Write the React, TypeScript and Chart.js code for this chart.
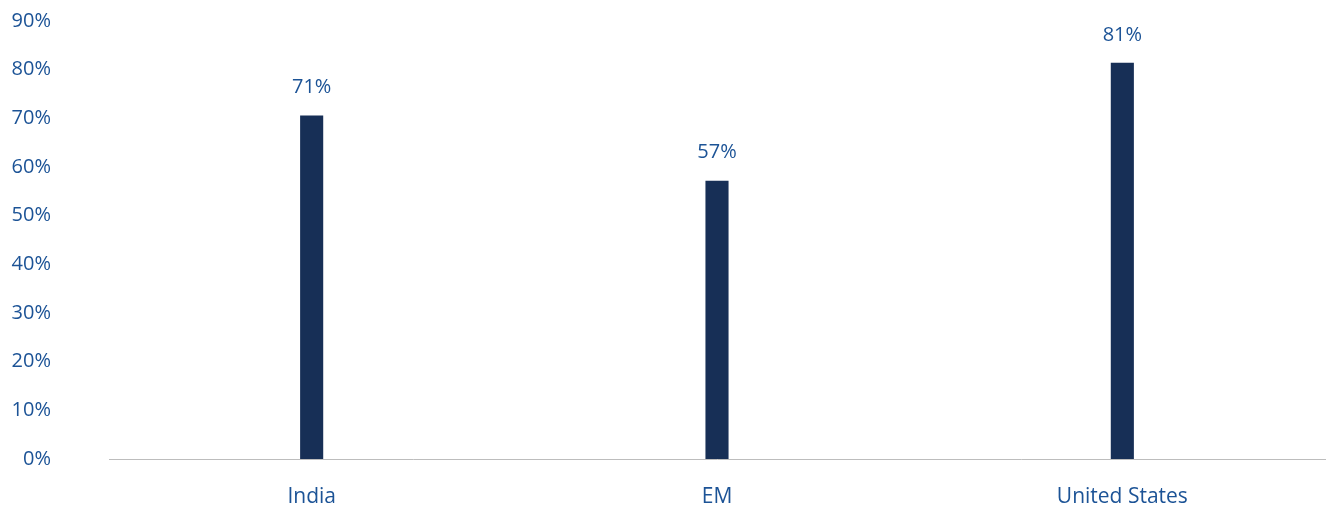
import React, { useEffect, useRef } from "react";
import { Chart, registerables } from "chart.js";

Chart.register(...registerables);

const categories = ["India", "EM", "United States"];
const values = [70.6, 57.2, 81.4];
const valueLabels = ["71%", "57%", "81%"];
const yTicks = [0, 10, 20, 30, 40, 50, 60, 70, 80, 90];

const FONT = "'Open Sans', sans-serif";
const TEXT = "#1c5396";
const BAR = "#172f56";

const labelPlugin = {
  id: "barLabels",
  afterDatasetsDraw(chart: any) {
    const ctx = chart.ctx;
    const meta = chart.getDatasetMeta(0);
    ctx.save();
    ctx.font = `20px ${FONT}`;
    ctx.fillStyle = TEXT;
    ctx.textAlign = "center";
    ctx.textBaseline = "middle";
    meta.data.forEach((el: any, i: number) => {
      ctx.fillText(valueLabels[i], el.x, el.y - 28);
    });
    ctx.restore();
  },
};

export default function App() {
  const ref = useRef<HTMLCanvasElement>(null);
  useEffect(() => {
    if (!ref.current) return;
    const chart = new Chart(ref.current, {
      type: "bar",
      data: {
        labels: categories,
        datasets: [
          {
            data: values,
            backgroundColor: BAR,
            barPercentage: 0.057,
            categoryPercentage: 1,
          },
        ],
      },
      options: {
        animation: false,
        responsive: true,
        maintainAspectRatio: false,
        layout: { padding: { top: 21, right: 4, left: 0, bottom: 0 } },
        plugins: { legend: { display: false }, tooltip: { enabled: false } },
        scales: {
          x: {
            grid: { display: false, drawTicks: false },
            border: { display: true, color: "#bdbdbd", width: 1 },
            ticks: {
              color: TEXT,
              font: { family: FONT, size: 21 },
              padding: 25,
              maxRotation: 0,
            },
            afterFit(scale: any) {
              scale.height = 47;
              scale.paddingLeft = 0;
              scale.paddingRight = 0;
            },
          },
          y: {
            min: 0,
            max: 90,
            afterBuildTicks(scale: any) {
              scale.ticks = yTicks.map((v) => ({ value: v }));
            },
            grid: { display: false, drawTicks: false },
            border: { display: false },
            ticks: {
              color: TEXT,
              font: { family: FONT, size: 20 },
              padding: 58,
              callback: (v: any) => `${v}%`,
            },
            afterFit(scale: any) {
              scale.width = 109;
              scale.paddingTop = 0;
              scale.paddingBottom = 0;
            },
          },
        },
      },
      plugins: [labelPlugin],
    });
    return () => chart.destroy();
  }, []);
  return (
    <div style={{ position: "fixed", left: 0, top: 0, width: 1329, height: 506, background: "#fff" }}>
      <canvas ref={ref} />
    </div>
  );
}
